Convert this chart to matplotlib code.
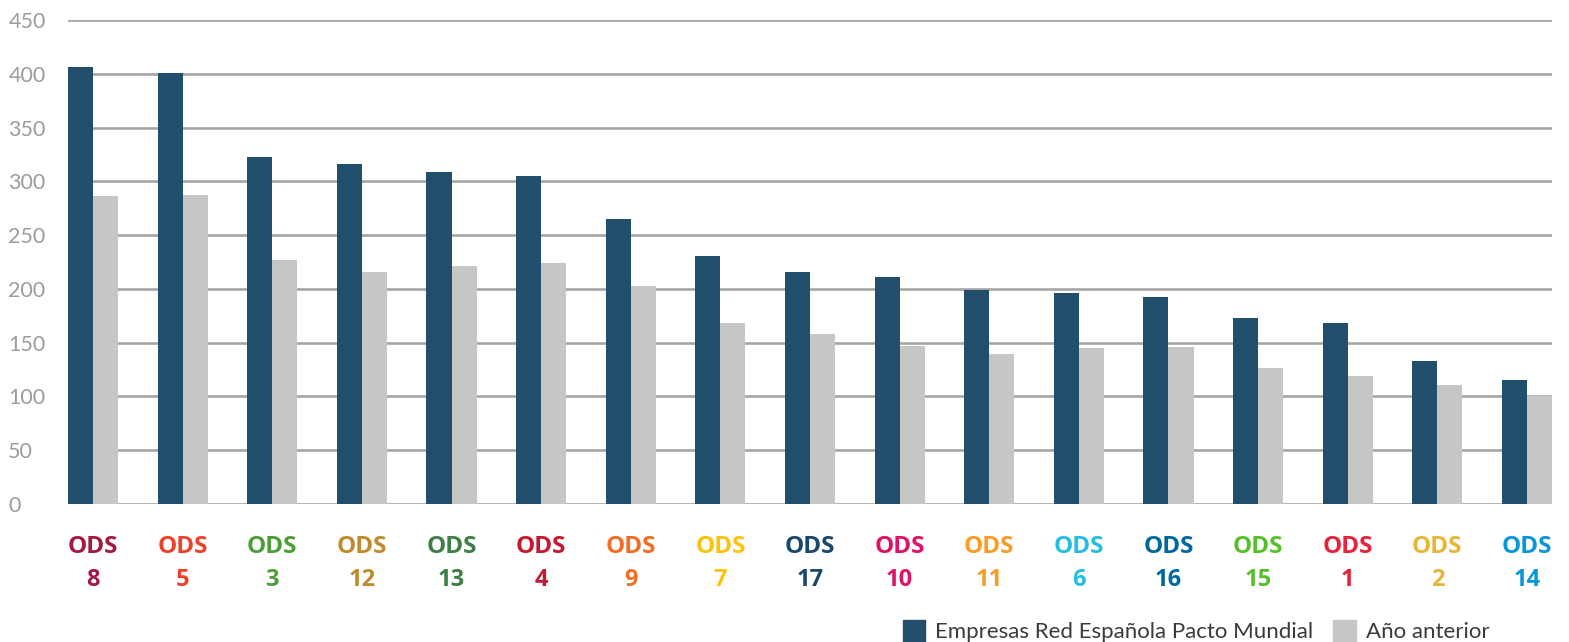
import numpy as np
import matplotlib
matplotlib.use("Agg")
import matplotlib.pyplot as plt
from matplotlib.patches import Patch

# ODS ranking: companies in the network vs previous year
ods_nums = ["8", "5", "3", "12", "13", "4", "9", "7", "17", "10", "11", "6", "16", "15", "1", "2", "14"]
empresas = [406, 401, 323, 316, 309, 305, 265, 231, 216, 211, 199, 196, 192, 173, 168, 133, 115]
anterior = [286, 287, 227, 216, 221, 224, 203, 168, 158, 147, 139, 145, 146, 126, 119, 111, 100]
ods_colors = ["#A21942", "#EF402B", "#4C9F38", "#BF8B2E", "#3F7E44", "#C5192D", "#F36D25",
              "#FCC30B", "#19486A", "#DD1367", "#F99D26", "#26BDE2", "#00689D", "#56C02B",
              "#E5243B", "#E5B735", "#0A97D9"]
yticks = [0, 50, 100, 150, 200, 250, 300, 350, 400, 450]

dark = "#214F6B"
light = "#C6C6C6"
grid = "#A6A6A6"

W, H = 1569, 642
fig = plt.figure(figsize=(W / 100, H / 100), dpi=100)
ax = fig.add_axes([68 / W, (H - 504) / H, (1552 - 68) / W, (504 - 20) / H])

x = np.arange(len(ods_nums))
bw = 0.279
ax.bar(x - bw / 2, empresas, bw, color=dark, zorder=3)
ax.bar(x + bw / 2, anterior, bw, color=light, zorder=3)

ax.set_xlim(-bw, len(x) - 1 + bw)
ax.set_ylim(0, 450)
ax.set_yticks(yticks)
for t in yticks:
    ax.axhline(t, color=grid, lw=1.9, zorder=1)
ax.set_xticks([])
for s in ax.spines.values():
    s.set_visible(False)
ax.tick_params(axis="y", length=0, pad=43, labelsize=15.5, labelcolor="#9C9C9C")
for lab in ax.get_yticklabels():
    lab.set_horizontalalignment("left")
    lab.set_fontfamily("Lato")

# coloured ODS labels under each group
for xi, num, c in zip(x, ods_nums, ods_colors):
    ax.text(xi, -0.088, "ODS", transform=ax.get_xaxis_transform(), ha="center", va="center",
            color=c, fontsize=17.5, fontweight="bold", family="Open Sans")
    ax.text(xi, -0.157, num, transform=ax.get_xaxis_transform(), ha="center", va="center",
            color=c, fontsize=17, fontweight="bold", family="Open Sans")

handles = [Patch(color=dark, label="Empresas Red Española Pacto Mundial"),
           Patch(color=light, label="Año anterior")]
fig.legend(handles=handles, loc="center left", bbox_to_anchor=(903 / W, (H - 631) / H),
           ncol=2, frameon=False, borderpad=0, borderaxespad=0,
           handlelength=1.0, handleheight=1.2, handletextpad=0.45, columnspacing=0.9,
           prop={"family": "Lato", "size": 16}, labelcolor="#3A3A3A")

fig.savefig("out.png", dpi=100)
